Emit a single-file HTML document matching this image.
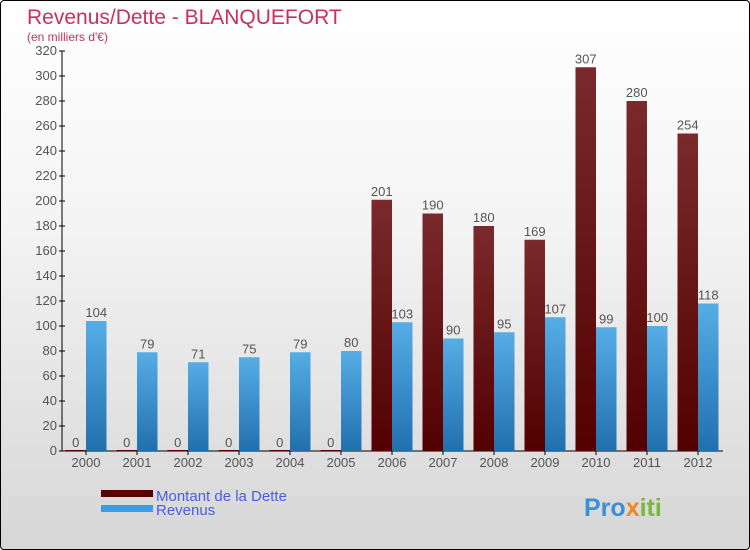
<!DOCTYPE html>
<html><head><meta charset="utf-8"><style>
body{margin:0;width:750px;height:550px;overflow:hidden;font-family:"Liberation Sans",sans-serif}
#wrap{position:absolute;left:0;top:0;width:748px;height:548px;border:1px solid #000;border-radius:4px;background:linear-gradient(#ffffff,#f4f4f4 40%,#d6d6d6);overflow:hidden}
text{font-family:"Liberation Sans",sans-serif}
</style></head><body>
<div id="wrap">
<svg id="chart" width="750" height="550">
<defs>
<linearGradient id="gD" x1="0" y1="0" x2="0" y2="1"><stop offset="0" stop-color="#7a2a2c"/><stop offset="1" stop-color="#520000"/></linearGradient>
<linearGradient id="gR" x1="0" y1="0" x2="0" y2="1"><stop offset="0" stop-color="#56ade6"/><stop offset="1" stop-color="#2170ae"/></linearGradient>
</defs>
<text x="26" y="23" font-size="21" fill="#c8305e">Revenus/Dette - BLANQUEFORT</text>
<text x="26" y="40" font-size="12" fill="#c8305e">(en milliers d'€)</text>
<g id="plot"></g>
<g>
<rect x="100" y="489" width="52" height="7" fill="#5a0000"/>
<text x="155" y="500" font-size="15" fill="#4a5de8">Montant de la Dette</text>
<rect x="100" y="504" width="52" height="7" fill="#3d9be0"/>
<text x="155" y="514" font-size="15" fill="#4a5de8">Revenus</text>
</g>
<text x="583" y="515" font-size="25" font-weight="bold" fill="#3a8fd8">Pro<tspan fill="#f08a1c">x</tspan><tspan fill="#7ab83a">iti</tspan></text>
</svg>
</div>
<script>
const years=["2000","2001","2002","2003","2004","2005","2006","2007","2008","2009","2010","2011","2012"];
const dette=[0,0,0,0,0,0,201,190,180,169,307,280,254];
const revenus=[104,79,71,75,79,80,103,90,95,107,99,100,118];
const yTicks=[0,20,40,60,80,100,120,140,160,180,200,220,240,260,280,300,320];
const NS="http://www.w3.org/2000/svg";
const g=document.getElementById('plot');
const x0=61,yBase=450,yTop=50,yMax=320,step=51,first=85,bw=20.5;
const y=v=>yBase-(v/yMax)*(yBase-yTop);
const xc=i=>first+i*step;
function mk(t,a){const e=document.createElementNS(NS,t);for(const k in a)e.setAttribute(k,a[k]);g.appendChild(e);return e;}
let ax=mk('line',{x1:x0,y1:yTop,x2:x0,y2:yBase,stroke:'#000'});


let bx=mk('line',{x1:x0,y1:yBase,x2:722,y2:yBase,stroke:'#000'});


yTicks.forEach(v=>{
 mk('line',{x1:x0-3,y1:y(v),x2:x0+3,y2:y(v),stroke:'#000'});
 const t=mk('text',{x:x0-5,y:y(v)+4,'font-size':13,'text-anchor':'end',fill:'#555'});
 t.textContent=v;
 
 
});
years.forEach((yr,i)=>{
 const c=xc(i);
 mk('line',{x1:c,y1:yBase,x2:c,y2:yBase+4,stroke:'#000'});
 const t=mk('text',{x:c,y:yBase+16,'font-size':13,'text-anchor':'middle',fill:'#555'});
 t.textContent=yr;
 
 
 const d=dette[i],r=revenus[i];
 const bd=mk('rect',{x:c-bw,y:y(d),width:bw,height:Math.max(yBase-y(d),0),fill:'url(#gD)'});
 
 
 if(d===0){mk('rect',{x:c-bw,y:yBase-1,width:bw,height:1,fill:'#5a0000'});}
 const td=mk('text',{x:c-bw/2,y:y(d)-4,'font-size':13,'text-anchor':'middle',fill:'#555'});
 td.textContent=d;
 
 
 const br=mk('rect',{x:c,y:y(r),width:bw,height:yBase-y(r),fill:'url(#gR)'});
 
 
 const tr=mk('text',{x:c+bw/2,y:y(r)-4,'font-size':13,'text-anchor':'middle',fill:'#555'});
 tr.textContent=r;
 
 
});
</script>
</body></html>
